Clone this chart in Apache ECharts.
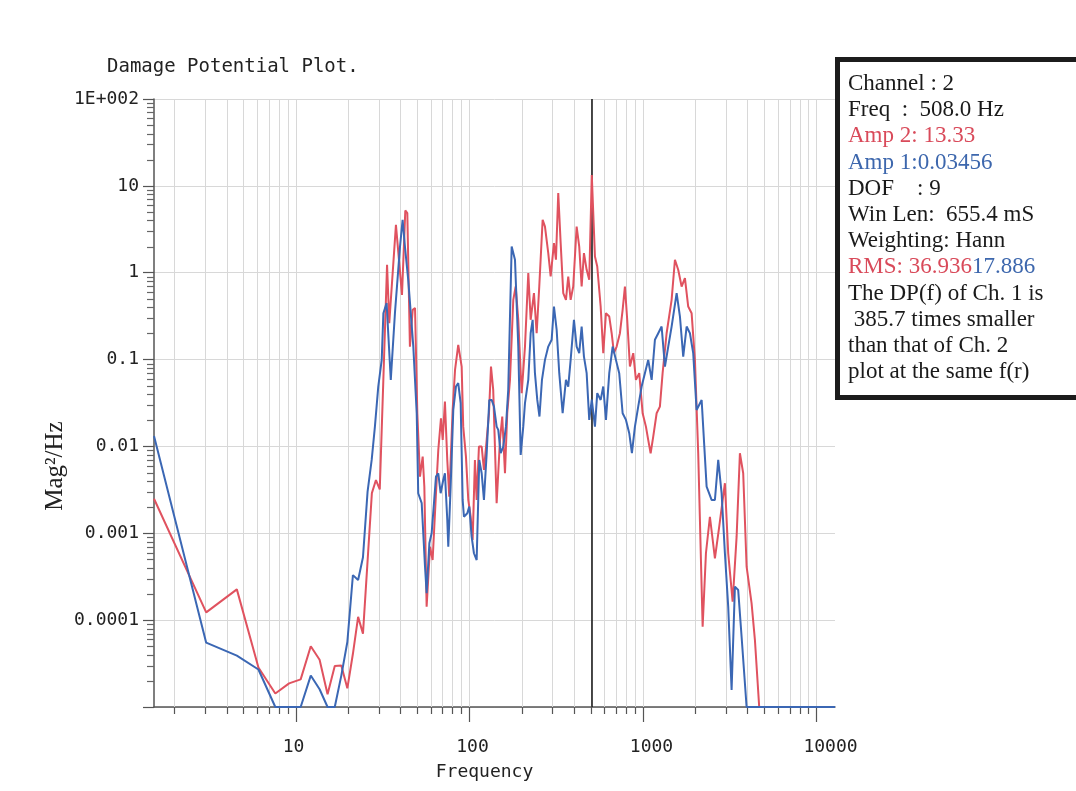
<!DOCTYPE html>
<html><head><meta charset="utf-8">
<script src="https://cdn.jsdelivr.net/npm/echarts@6/dist/echarts.min.js"></script>
<style>html,body{margin:0;padding:0;background:#fff}#c{width:1076px;height:791px}</style>
</head><body><div id="c"></div>
<script>
// ---- data ----
const freqCh2 = [1.526,3.05,4.58,6.10,7.63,9.16,10.68,12.21,13.73,15.26,16.79,18.31,19.84,21.36,22.89,24.41,27.47,29.0,30.5,32.0,33.6,34.6,37.8,40.96,42.8,43.96,45.5,47.2,48.7,50.2,52.0,53.9,55.1,56.8,59.4,61.5,64.3,66.3,68.7,70.3,72.4,74.7,76.7,80.2,82.8,86.4,90.4,92.3,95.7,98.7,101.9,104.6,107.8,110.3,113.7,117.9,121.5,126.0,129.9,133.4,137.4,143.8,150.3,154.9,160.6,165.5,171.6,179.3,185.1,191.6,200.4,209.4,218.8,225.8,235.9,244.5,253.1,264.7,273.0,285.2,294.4,307.6,315.8,325.6,336.2,347.9,360.6,371.8,383.8,397.2,415.6,430.1,444.1,457.9,474.6,491.2,508.0,529.8,546.2,571.5,591.5,613.1,640.6,661.3,681.7,706.6,738.0,764.9,788.6,812.9,842.6,880.5,912.5,953.5,997.3,1042,1074,1109,1148,1201,1254,1300,1371,1465,1531,1599,1673,1748,1826,1910,1996,2085,2211,2310,2435,2602,2755,2971,3104,3292,3470,3625,3787,3962,4233,4424,4683,12800];
const magCh2 = [0.0025,1.23e-4,2.26e-4,2.85e-5,1.43e-5,1.87e-5,2.08e-5,5.0e-5,3.5e-5,1.4e-5,2.96e-5,3.0e-5,1.64e-5,4.1e-5,1.09e-4,7.0e-5,2.9e-3,4.1e-3,3.2e-3,0.06,1.23,0.263,3.56,0.556,5.21,4.86,0.141,0.374,0.391,0.0241,0.00449,0.00763,0.00344,1.43e-4,7.0e-4,4.92e-4,2.89e-3,9.1e-3,0.0211,0.0119,0.0328,0.00699,0.00264,0.0263,0.0761,0.148,0.0831,0.0169,0.00763,0.00242,0.00155,8.4e-4,0.00699,0.00242,0.00995,0.00995,0.00536,0.0119,0.0241,0.0831,0.0448,0.00222,0.0119,0.0221,0.00491,0.0241,0.0584,0.487,0.693,0.287,0.041,0.141,0.989,0.287,0.582,0.201,0.693,4.07,3.40,1.68,0.904,2.19,1.41,8.26,2.19,0.582,0.487,0.904,0.487,0.693,3.40,2.0,0.693,1.68,1.08,0.828,13.33,1.54,1.18,0.408,0.1185,0.342,0.313,0.201,0.1185,0.141,0.201,0.374,0.693,0.287,0.0831,0.1185,0.0584,0.0697,0.0241,0.0169,0.0119,0.00835,0.013,0.0241,0.0287,0.0697,0.201,0.487,1.41,1.08,0.693,0.866,0.408,0.342,0.0992,0.00835,8.4e-5,5.89e-4,0.00155,5.15e-4,0.00119,0.00377,5.89e-4,1.63e-4,9.14e-4,0.00835,0.00491,4.12e-4,1.56e-4,5.9e-5,1e-5,1e-5];

const freqCh1 = [1.526,3.05,4.58,6.10,7.63,9.16,10.68,12.21,13.73,15.26,16.79,18.31,19.84,21.36,22.89,24.41,25.94,27.4,28.6,29.9,31.3,32.0,33.4,35.3,37.3,39.9,41.3,42.6,44.5,47.6,49.8,50.8,53.2,55.6,56.8,58.9,60.7,62.6,64.3,66.3,68.4,70.8,72.4,74.7,75.7,78.1,80.9,83.8,86.4,89.2,91.6,93.2,97.4,100.0,103.2,106.4,110.3,114.2,117.9,121.5,126.0,130.4,134.6,138.8,143.8,146.9,151.7,157.0,162.7,167.7,175.5,183.4,191.6,197.8,204.7,209.4,218.8,225.8,231.8,239.0,246.5,253.8,262.3,273.0,285.2,298.3,307.6,318.8,330.0,345.1,360.6,371.8,383.8,401.0,415.6,430.1,444.1,457.9,474.6,491.2,508.0,529.8,546.2,571.5,591.5,613.1,640.6,670.1,699.8,731.1,764.9,799.4,835.1,865.2,900.4,940.6,984,1028,1074,1124,1174,1227,1283,1341,1401,1465,1566,1636,1709,1788,1868,1951,2041,2182,2331,2490,2602,2719,2844,2971,3104,3247,3393,3544,3708,3962,12800];
const magCh1 = [0.0132,5.5e-5,3.9e-5,2.7e-5,1e-5,1e-5,1e-5,2.3e-5,1.6e-5,1e-5,1e-5,2.3e-5,5.6e-5,3.3e-4,2.9e-4,5.3e-4,3.0e-3,0.00699,0.0169,0.0489,0.0992,0.342,0.447,0.0584,0.342,2.0,4.07,2.0,0.828,0.141,0.0241,0.00289,0.00222,4.12e-4,2.04e-4,7.67e-4,1.0e-3,0.00222,0.00449,0.00491,0.00289,0.00411,0.00491,0.00142,7.0e-4,0.00344,0.0263,0.0489,0.0535,0.0315,0.00242,0.00155,0.0017,0.00203,9.14e-4,5.89e-4,4.92e-4,0.00699,0.00491,0.00242,0.00835,0.0343,0.0343,0.0287,0.0169,0.0155,0.00835,0.00995,0.0169,0.0448,2.0,1.41,0.141,0.00798,0.0169,0.0315,0.0584,0.201,0.287,0.0697,0.0343,0.0221,0.0584,0.0992,0.141,0.169,0.408,0.22,0.0697,0.0241,0.0584,0.0489,0.0992,0.287,0.141,0.1185,0.24,0.1083,0.0697,0.0202,0.03456,0.0169,0.0411,0.0343,0.0489,0.0202,0.0697,0.141,0.0992,0.0697,0.0241,0.0202,0.0142,0.00835,0.0169,0.0287,0.0489,0.0697,0.0992,0.0584,0.169,0.201,0.24,0.0831,0.141,0.24,0.582,0.313,0.1083,0.24,0.201,0.1185,0.0263,0.0343,0.00344,0.00242,0.00242,0.00699,0.00289,5.89e-4,1.43e-4,1.57e-5,2.43e-4,2.22e-4,6.4e-5,1e-5,1e-5];

const cursorFreq = 508.0;

const xMajorTicks = [10, 100, 1000, 10000];
const xMajorLabels = ['10', '100', '1000', '10000'];
const xMinorTicks = [2,3,4,5,6,7,8,9,20,30,40,50,60,70,80,90,200,300,400,500,600,700,800,900,2000,3000,4000,5000,6000,7000,8000,9000];
const yMajorTicks = [100, 10, 1, 0.1, 0.01, 0.001, 0.0001, 0.00001];
const yMajorLabels = ['1E+002', '10', '1', '0.1', '0.01', '0.001', '0.0001', ''];
const yMinorTicks = [2e-5,3e-5,4e-5,5e-5,6e-5,7e-5,8e-5,9e-5,2e-4,3e-4,4e-4,5e-4,6e-4,7e-4,8e-4,9e-4,2e-3,3e-3,4e-3,5e-3,6e-3,7e-3,8e-3,9e-3,0.02,0.03,0.04,0.05,0.06,0.07,0.08,0.09,0.2,0.3,0.4,0.5,0.6,0.7,0.8,0.9,2,3,4,5,6,7,8,9,20,30,40,50,60,70,80,90];

const infoLines = [
  [['Channel : 2', 'k']],
  [['Freq  :  508.0 Hz', 'k']],
  [['Amp 2: 13.33', 'r']],
  [['Amp 1:0.03456', 'b']],
  [['DOF    : 9', 'k']],
  [['Win Len:  655.4 mS', 'k']],
  [['Weighting: Hann', 'k']],
  [['RMS: 36.936', 'r'], ['17.886', 'b']],
  [['The DP(f) of Ch. 1 is', 'k']],
  [[' 385.7 times smaller', 'k']],
  [['than that of Ch. 2', 'k']],
  [['plot at the same f(r)', 'k']]
];

const X_MIN = 1.526, X_MAX = 12800, Y_MIN = 1e-5, Y_MAX = 100;
const RED = '#e0525f', BLUE = '#3b67b4';
const MONO = '"DejaVu Sans Mono", monospace';

function pick(v, ticks, labels) {
  const lv = Math.log10(v);
  for (let i = 0; i < ticks.length; i++) {
    if (Math.abs(lv - Math.log10(ticks[i])) < 1e-6) return labels[i];
  }
  return '';
}

const chart = echarts.init(document.getElementById('c'), null, {renderer: 'canvas'});

function vLineSeries(values, color) {
  return {
    type: 'custom', silent: true, z: 1, animation: false,
    data: values.map(v => [v, Y_MIN]),
    encode: {x: 0, y: 1},
    renderItem: function (params, api) {
      const a = api.coord([api.value(0), Y_MAX]);
      const b = api.coord([api.value(0), Y_MIN]);
      const x = Math.round(a[0]) + 0.5;
      return {type: 'line', shape: {x1: x, y1: a[1], x2: x, y2: b[1]}, style: {stroke: color, lineWidth: 1}};
    }
  };
}
function xTickSeries(values, len) {
  return {
    type: 'custom', silent: true, z: 3, animation: false, clip: false,
    data: values.map(v => [v, Y_MIN]),
    encode: {x: 0, y: 1},
    renderItem: function (params, api) {
      const b = api.coord([api.value(0), Y_MIN]);
      const x = Math.round(b[0]) + 0.5;
      return {type: 'line', shape: {x1: x, y1: b[1], x2: x, y2: b[1] + len}, style: {stroke: '#555', lineWidth: 1.2}};
    }
  };
}
function xLabelSeries(values, labels) {
  return {
    type: 'custom', silent: true, z: 3, animation: false, clip: false,
    data: values.map(v => [v, Y_MIN]),
    encode: {x: 0, y: 1},
    renderItem: function (params, api) {
      const b = api.coord([api.value(0), Y_MIN]);
      return {type: 'text', x: b[0] - 13, y: b[1] + 40,
        style: {text: labels[params.dataIndex], font: '18px ' + MONO, fill: '#222', align: 'left', verticalAlign: 'middle'}};
    }
  };
}
function yTickSeries(values, len) {
  return {
    type: 'custom', silent: true, z: 3, animation: false, clip: false,
    data: values.map(v => [X_MIN, v]),
    encode: {x: 0, y: 1},
    renderItem: function (params, api) {
      const p = api.coord([X_MIN, api.value(1)]);
      const y = Math.round(p[1]) + 0.5;
      return {type: 'line', shape: {x1: p[0] - len, y1: y, x2: p[0], y2: y}, style: {stroke: '#666', lineWidth: 1.2}};
    }
  };
}

const infoGraphics = [{
  type: 'rect', z: 100,
  shape: {x: 837.5, y: 59.5, width: 260, height: 338},
  style: {fill: '#fff', stroke: '#1c1c1c', lineWidth: 5}
}];
const colorMap = {k: '#1a1a1a', r: '#d94a5a', b: '#3d67ad'};
infoLines.forEach((parts, i) => {
  const txt = parts.map(p => '{' + p[1] + '|' + p[0] + '}').join('');
  const rich = {};
  Object.keys(colorMap).forEach(k => {
    rich[k] = {fill: colorMap[k], fontFamily: 'Liberation Serif', fontSize: 23};
  });
  infoGraphics.push({
    type: 'text', z: 101, x: 848, y: 84 + i * 26.2,
    style: {text: txt, rich: rich, verticalAlign: 'middle', align: 'left',
            font: '23px "Liberation Serif"', fill: '#1a1a1a'}
  });
});

const option = {
  animation: false,
  backgroundColor: '#fff',
  title: {
    text: 'Damage Potential Plot.', left: 107, top: 58, padding: 0,
    textStyle: {fontFamily: 'DejaVu Sans Mono', fontSize: 19, fontWeight: 'normal', color: '#222'}
  },
  grid: {left: 154, top: 99, width: 681, height: 608, containLabel: false},
  xAxis: {
    type: 'log', logBase: 10, min: X_MIN, max: X_MAX,
    axisLine: {show: true, lineStyle: {color: '#555', width: 1.5}},
    axisTick: {show: false},
    splitLine: {show: false},
    minorTick: {show: false}, minorSplitLine: {show: false},
    axisLabel: {show: false},
    name: 'Frequency', nameLocation: 'middle', nameGap: 56,
    nameTextStyle: {fontFamily: 'DejaVu Sans Mono', fontSize: 18, color: '#222', padding: [0, 20, 0, 0]}
  },
  yAxis: {
    type: 'log', logBase: 10, min: Y_MIN, max: Y_MAX, interval: 1,
    axisLine: {show: true, lineStyle: {color: '#555', width: 1.5}},
    axisTick: {show: true, length: 11, lineStyle: {color: '#555', width: 1.2}},
    splitLine: {show: true, lineStyle: {color: '#d8d8d8', width: 1}},
    axisLabel: {
      margin: 15, color: '#222', fontFamily: 'DejaVu Sans Mono', fontSize: 18,
      formatter: v => pick(v, yMajorTicks, yMajorLabels)
    }
  },
  graphic: [
    {type: 'text', x: 55, y: 466, rotation: Math.PI / 2,
     style: {text: 'Mag²/Hz', font: '25px "Liberation Serif"', fill: '#222', align: 'center', verticalAlign: 'middle'}}
  ].concat(infoGraphics),
  series: [
    vLineSeries(xMinorTicks.concat(xMajorTicks), '#d8d8d8'),
    xTickSeries(xMajorTicks, 15),
    xTickSeries(xMinorTicks, 7),
    xLabelSeries(xMajorTicks, xMajorLabels),
    yTickSeries(yMinorTicks, 7),
    {
      name: 'Ch. 2', type: 'line', z: 5, showSymbol: false, symbol: 'none',
      data: freqCh2.map((f, i) => [f, magCh2[i]]),
      lineStyle: {color: RED, width: 2}, itemStyle: {color: RED},
      clip: true
    },
    {
      name: 'Ch. 1', type: 'line', z: 6, showSymbol: false, symbol: 'none',
      data: freqCh1.map((f, i) => [f, magCh1[i]]),
      lineStyle: {color: BLUE, width: 2}, itemStyle: {color: BLUE},
      clip: true,
      markLine: {
        silent: true, symbol: ['none', 'none'], label: {show: false},
        lineStyle: {color: '#111', width: 1.5, type: 'solid'},
        data: [{xAxis: cursorFreq}]
      }
    }
  ]
};
chart.setOption(option);
</script>
</body></html>
